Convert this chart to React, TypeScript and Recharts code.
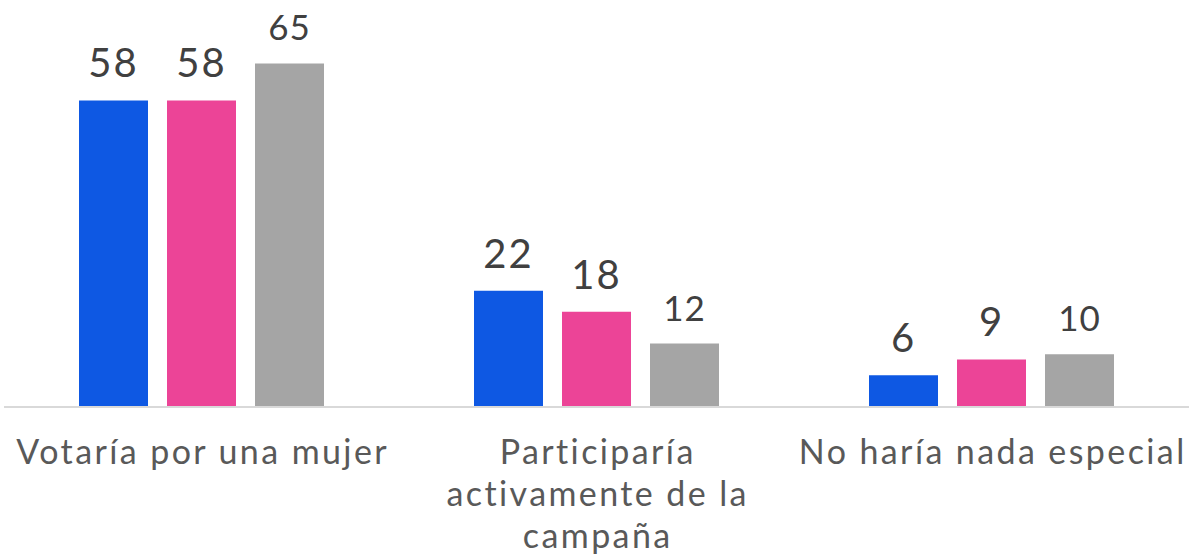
import React from 'react';
import { BarChart, Bar, XAxis, YAxis, LabelList } from 'recharts';

const categories = ['Votaría por una mujer', 'Participaría\nactivamente de la\ncampaña', 'No haría nada especial'];
const serieA = [58, 22, 6];
const serieB = [58, 18, 9];
const serieC = [65, 12, 10];

const data = categories.map((name, i) => ({ name, a: serieA[i], b: serieB[i], c: serieC[i] }));

const FONT = 'Lato, "Open Sans", sans-serif';
const SPACING = 2.4;

function CategoryTick({ x, y, payload }: any) {
  const lines = String(payload.value).split('\n');
  return (
    <text x={x + SPACING / 2} y={y} textAnchor="middle" fill="#595959" fontSize={34} fontFamily={FONT}
      letterSpacing={SPACING}>
      {lines.map((l, i) => (
        <tspan key={i} x={x + SPACING / 2} dy={i === 0 ? 57 : 42}>{l}</tspan>
      ))}
    </text>
  );
}

export default function App() {
  return (
    <div style={{ position: 'absolute', left: 0, top: 0, width: 1191, height: 560, background: '#fff' }}>
      <BarChart width={1191} height={560} data={data} margin={{ top: 37, right: 2, bottom: 0, left: 4 }}
        barCategoryGap={75} barGap={19}>
        <XAxis dataKey="name" height={153} tickLine={false} tickSize={0} tickMargin={0}
          axisLine={{ stroke: '#d9d9d9', strokeWidth: 2 }} tick={<CategoryTick />} interval={0} />
        <YAxis hide domain={[0, 70]} />
        <Bar dataKey="a" fill="#0e58e3" isAnimationActive={false}>
          <LabelList dataKey="a" position="top" offset={23} fill="#404040" fontSize={40} fontFamily={FONT} letterSpacing={2} />
        </Bar>
        <Bar dataKey="b" fill="#ec4497" isAnimationActive={false}>
          <LabelList dataKey="b" position="top" offset={23} fill="#404040" fontSize={40} fontFamily={FONT} letterSpacing={2} />
        </Bar>
        <Bar dataKey="c" fill="#a5a5a5" isAnimationActive={false}>
          <LabelList dataKey="c" position="top" offset={23} fill="#404040" fontSize={35} fontFamily={FONT} letterSpacing={1} />
        </Bar>
      </BarChart>
    </div>
  );
}
